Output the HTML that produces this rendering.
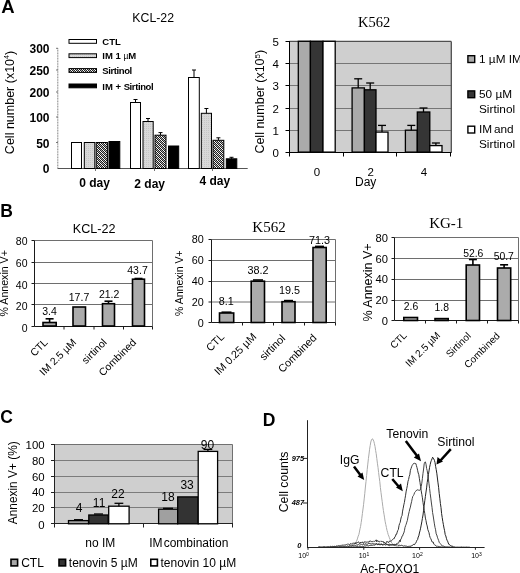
<!DOCTYPE html>
<html><head><meta charset="utf-8">
<style>
html,body{margin:0;padding:0;background:#fff;}
body{width:520px;height:573px;overflow:hidden;position:relative;font-family:"Liberation Sans",sans-serif;}
svg{position:absolute;left:0;top:0;filter:grayscale(1);}
text{font-family:"Liberation Sans",sans-serif;fill:#000;}
.b{font-weight:bold;}
.serif{font-family:"Liberation Serif",serif;}
</style></head>
<body>
<svg width="520" height="573" viewBox="0 0 520 573">
<defs>
<pattern id="hatch" width="4" height="4" patternUnits="userSpaceOnUse"><rect width="4" height="4" fill="#b0b0b0"/><rect x="0" y="0" width="1" height="1" fill="#1e1e1e"/><rect x="0" y="2" width="1" height="1" fill="#1e1e1e"/><rect x="1" y="1" width="1" height="1" fill="#1e1e1e"/><rect x="1" y="3" width="1" height="1" fill="#1e1e1e"/><rect x="2" y="0" width="1" height="1" fill="#1e1e1e"/><rect x="2" y="2" width="1" height="1" fill="#1e1e1e"/><rect x="3" y="1" width="1" height="1" fill="#1e1e1e"/><rect x="3" y="3" width="1" height="1" fill="#1e1e1e"/><rect x="0" y="3" width="1" height="1" fill="#ffffff"/><rect x="1" y="0" width="1" height="1" fill="#ffffff"/><rect x="2" y="1" width="1" height="1" fill="#ffffff"/><rect x="3" y="2" width="1" height="1" fill="#ffffff"/></pattern>
<pattern id="dots" width="2" height="2" patternUnits="userSpaceOnUse">
<rect width="2" height="2" fill="#d8d8d8"/><rect width="1" height="1" fill="#c6c6c6"/>
</pattern>
</defs>

<!-- ============ PANEL A LEFT ============ -->
<text x="0.6" y="12.7" class="b" font-size="17.5" transform="translate(0.6,0) scale(1.06,1)">A</text>
<text x="153.2" y="21.9" font-size="12.3" text-anchor="middle">KCL-22</text>
<text transform="translate(14,102.5) rotate(-90)" font-size="12.5" text-anchor="middle">Cell number (x10<tspan font-size="7" dy="-5">4</tspan><tspan dy="5">)</tspan></text>
<!-- y axis -->
<line x1="57.8" y1="48.3" x2="57.8" y2="168.4" stroke="#777" stroke-width="1" stroke-dasharray="1 0.6"/>
<g stroke="#777" stroke-width="1">
<line x1="56" y1="48.3" x2="58" y2="48.3"/><line x1="56" y1="70" x2="58" y2="70"/><line x1="56" y1="92" x2="58" y2="92"/>
<line x1="56" y1="117" x2="58" y2="117"/><line x1="56" y1="142.5" x2="58" y2="142.5"/>
</g>
<g class="b" font-size="12" text-anchor="end">
<text x="49.5" y="53">300</text><text x="49.5" y="75.1">250</text><text x="49.5" y="97">200</text>
<text x="49.5" y="122.4">100</text><text x="49.5" y="148.3">50</text><text x="49.5" y="173">0</text>
</g>
<line x1="57.5" y1="168.5" x2="247.7" y2="168.5" stroke="#555" stroke-width="1"/>
<g stroke="#777" stroke-width="1"><line x1="95.5" y1="168.5" x2="95.5" y2="171"/><line x1="154.5" y1="168.5" x2="154.5" y2="171"/><line x1="212.5" y1="168.5" x2="212.5" y2="171"/></g>
<!-- legend -->
<rect x="69" y="39.5" width="27.5" height="3.8" fill="#fff" stroke="#000" stroke-width="1"/>
<rect x="69" y="53.8" width="27.5" height="3.8" fill="url(#dots)" stroke="#000" stroke-width="1"/>
<rect x="69" y="68.6" width="27.5" height="3.8" fill="url(#hatch)" stroke="#000" stroke-width="1"/>
<rect x="69" y="84" width="27.5" height="3.8" fill="#000" stroke="#000" stroke-width="1"/>
<g class="b" font-size="9.5">
<text x="102.3" y="45">CTL</text><text x="102.3" y="58.8">IM 1 <tspan font-weight="normal" font-size="8.5">µ</tspan>M</text>
<text x="102.3" y="74.1" letter-spacing="-0.4">Sirtinol</text><text x="102.3" y="90">IM + <tspan letter-spacing="-0.4">Sirtinol</tspan></text>
</g>
<!-- bars -->
<g stroke="#000" stroke-width="1">
<rect x="71.5" y="142.5" width="10" height="26" fill="#fff"/>
<rect x="84.3" y="142.5" width="10.5" height="26" fill="url(#dots)"/>
<rect x="96.2" y="142.5" width="11.2" height="26" fill="url(#hatch)"/>
<rect x="109" y="141.5" width="10.8" height="27" fill="#000"/>

<rect x="130.5" y="102.5" width="10" height="66" fill="#fff"/>
<rect x="143" y="121.5" width="10.2" height="47" fill="url(#dots)"/>
<rect x="155" y="135.2" width="11" height="33.3" fill="url(#hatch)"/>
<rect x="168.5" y="146" width="10.2" height="22.5" fill="#000"/>

<rect x="188.5" y="77.5" width="10.8" height="91" fill="#fff"/>
<rect x="201.3" y="113.3" width="10.2" height="55.2" fill="url(#dots)"/>
<rect x="213" y="140.3" width="10.8" height="28.2" fill="url(#hatch)"/>
<rect x="226.3" y="158.8" width="10.5" height="9.7" fill="#000"/>
</g>
<g stroke="#000" stroke-width="1">
<line x1="135.5" y1="99.5" x2="135.5" y2="102.5"/><line x1="133.5" y1="99.5" x2="137.5" y2="99.5"/>
<line x1="148" y1="118.5" x2="148" y2="121.5"/><line x1="146" y1="118.5" x2="150" y2="118.5"/>
<line x1="160.5" y1="132.6" x2="160.5" y2="135.2"/><line x1="158.5" y1="132.6" x2="162.5" y2="132.6"/>
<line x1="194" y1="70" x2="194" y2="77.5"/><line x1="192" y1="70" x2="196" y2="70"/>
<line x1="206.4" y1="108.5" x2="206.4" y2="113.3"/><line x1="204.4" y1="108.5" x2="208.4" y2="108.5"/>
<line x1="218.4" y1="137.8" x2="218.4" y2="140.3"/><line x1="216.4" y1="137.8" x2="220.4" y2="137.8"/>
<line x1="231.5" y1="157.3" x2="231.5" y2="158.8"/><line x1="229.5" y1="157.3" x2="233.5" y2="157.3"/>
</g>
<g class="b" font-size="12" text-anchor="middle">
<text x="94.6" y="187">0 day</text><text x="149.7" y="188">2 day</text><text x="214.75" y="185">4 day</text>
</g>

<!-- ============ PANEL A RIGHT (K562) ============ -->
<text x="374.1" y="26.5" class="serif" font-size="14.5" text-anchor="middle">K562</text>
<text transform="translate(263.6,101.7) rotate(-90)" font-size="12.5" text-anchor="middle">Cell number (x10<tspan font-size="8" dy="-4">5</tspan><tspan dy="4">)</tspan></text>
<rect x="289.5" y="41.5" width="162" height="111" fill="#cfcfcf"/>
<g stroke="#767676" stroke-width="1">
<line x1="289.5" y1="63.5" x2="451.5" y2="63.5"/><line x1="289.5" y1="85.5" x2="451.5" y2="85.5"/>
<line x1="289.5" y1="108.5" x2="451.5" y2="108.5"/><line x1="289.5" y1="130.5" x2="451.5" y2="130.5"/>
</g>
<g stroke="#505050" stroke-width="1.3"><line x1="289.5" y1="41.4" x2="451.3" y2="41.4"/><line x1="451.3" y1="41.4" x2="451.3" y2="152.5"/></g>
<g stroke="#000" stroke-width="1">
<line x1="289.5" y1="41" x2="289.5" y2="152.5"/>
<line x1="285.5" y1="152.5" x2="451.5" y2="152.5"/>
<line x1="285.5" y1="41.5" x2="289.5" y2="41.5"/><line x1="285.5" y1="63.5" x2="289.5" y2="63.5"/>
<line x1="285.5" y1="85.5" x2="289.5" y2="85.5"/><line x1="285.5" y1="108.5" x2="289.5" y2="108.5"/>
<line x1="285.5" y1="130.5" x2="289.5" y2="130.5"/>
<line x1="289.5" y1="152" x2="289.5" y2="156.5"/><line x1="343.5" y1="152" x2="343.5" y2="156.5"/>
<line x1="396.5" y1="152" x2="396.5" y2="156.5"/><line x1="450.5" y1="152" x2="450.5" y2="156.5"/>
</g>
<g font-size="11.5" text-anchor="end">
<text x="279" y="45.8">5</text><text x="279" y="67.9">4</text><text x="279" y="90">3</text>
<text x="279" y="112.5">2</text><text x="279" y="134.8">1</text><text x="279" y="156.6">0</text>
</g>
<g stroke="#000" stroke-width="1.3">
<rect x="298.3" y="41.3" width="12.1" height="110.8" fill="#aaaaaa"/>
<rect x="310.4" y="41.3" width="12.6" height="110.8" fill="#353535"/>
<rect x="323" y="41.3" width="12.2" height="110.8" fill="#fff"/>
<rect x="352.1" y="87.9" width="12.3" height="64.2" fill="#aaaaaa"/>
<rect x="364.4" y="89.8" width="11.6" height="62.3" fill="#353535"/>
<rect x="376" y="132.1" width="12" height="20" fill="#fff"/>
<rect x="405.4" y="130.2" width="11.9" height="21.9" fill="#aaaaaa"/>
<rect x="417.3" y="112" width="12.5" height="40.1" fill="#353535"/>
<rect x="429.8" y="145.6" width="12.2" height="6.5" fill="#fff"/>
</g>
<g stroke="#000" stroke-width="1.3">
<line x1="358.2" y1="78.8" x2="358.2" y2="87.9"/><line x1="354.2" y1="78.8" x2="362.2" y2="78.8"/>
<line x1="370.2" y1="83" x2="370.2" y2="89.8"/><line x1="366.2" y1="83" x2="374.2" y2="83"/>
<line x1="382" y1="125.4" x2="382" y2="132.1"/><line x1="378" y1="125.4" x2="386" y2="125.4"/>
<line x1="411.3" y1="125.4" x2="411.3" y2="130.2"/><line x1="407.3" y1="125.4" x2="415.3" y2="125.4"/>
<line x1="423.5" y1="108" x2="423.5" y2="112"/><line x1="419.5" y1="108" x2="427.5" y2="108"/>
<line x1="435.9" y1="143" x2="435.9" y2="145.6"/><line x1="431.9" y1="143" x2="439.9" y2="143"/>
</g>
<g font-size="11.5" text-anchor="middle">
<text x="317" y="175.5">0</text><text x="370.8" y="175.5">2</text><text x="424" y="175.5">4</text>
<text x="365.7" y="186" font-size="12">Day</text>
</g>
<!-- legend -->
<g stroke="#000" stroke-width="1.4">
<rect x="467.9" y="55.7" width="6.8" height="6.8" fill="#aaaaaa"/>
<rect x="467.9" y="90.9" width="6.8" height="6.8" fill="#353535"/>
<rect x="467.9" y="126.2" width="6.8" height="6.8" fill="#fff"/>
</g>
<g font-size="11.8">
<text x="479" y="63">1 µM IM</text>
<text x="479" y="97.9">50 µM</text><text x="479" y="112.6">Sirtinol</text>
<text x="479" y="133" word-spacing="-1.5">IM and</text><text x="479" y="148">Sirtinol</text>
</g>


<!-- ============ PANEL B ============ -->
<text x="0.3" y="216.7" class="b" font-size="17.5">B</text>
<!-- B1 KCL-22 -->
<text x="94.1" y="233.3" font-size="12.6" text-anchor="middle">KCL-22</text>
<text transform="translate(7.6,283.3) rotate(-90)" font-size="10.6" text-anchor="middle">% Annexin V+</text>
<g stroke="#6e6e6e" stroke-width="1">
<line x1="34.5" y1="262.5" x2="152.5" y2="262.5"/>
<line x1="34.5" y1="283.5" x2="152.5" y2="283.5"/>
<line x1="34.5" y1="304.5" x2="152.5" y2="304.5"/>
<line x1="34.5" y1="240.5" x2="152.5" y2="240.5"/><line x1="152.5" y1="240.5" x2="152.5" y2="326.5"/>
</g>
<g stroke="#1a1a1a" stroke-width="1">
<line x1="34.5" y1="240.5" x2="34.5" y2="326.5"/><line x1="34.5" y1="326.5" x2="152.5" y2="326.5"/>
<line x1="31.5" y1="240.5" x2="34.5" y2="240.5"/>
<line x1="31.5" y1="262.5" x2="34.5" y2="262.5"/>
<line x1="31.5" y1="283.5" x2="34.5" y2="283.5"/>
<line x1="31.5" y1="304.5" x2="34.5" y2="304.5"/>
<line x1="31.5" y1="326.5" x2="34.5" y2="326.5"/>
<line x1="64" y1="326.5" x2="64" y2="329.5"/>
<line x1="94" y1="326.5" x2="94" y2="329.5"/>
<line x1="123.5" y1="326.5" x2="123.5" y2="329.5"/>
<line x1="152.5" y1="326.5" x2="152.5" y2="329.5"/>
</g>
<g font-size="10.5" text-anchor="end">
<text x="27.5" y="244.8">80</text><text x="27.5" y="266.8">60</text><text x="27.5" y="288.6">40</text>
<text x="27.5" y="309.8">20</text><text x="27.5" y="331.5">0</text>
</g>
<g stroke="#000" stroke-width="1.6">
<rect x="43" y="322.5" width="13.2" height="3.5" fill="#ababab"/>
<rect x="73" y="307" width="12.5" height="19" fill="#ababab"/>
<rect x="102.5" y="303.7" width="12" height="22.3" fill="#ababab"/>
<rect x="132.5" y="279.2" width="12" height="46.8" fill="#ababab"/>
<line x1="49.6" y1="318.8" x2="49.6" y2="322.5"/><line x1="45.6" y1="318.8" x2="53.6" y2="318.8"/>
<line x1="108.5" y1="301.2" x2="108.5" y2="303.7"/><line x1="104.5" y1="301.2" x2="112.5" y2="301.2"/>
<line x1="138.5" y1="278.5" x2="138.5" y2="279.2"/><line x1="134.5" y1="278.5" x2="142.5" y2="278.5"/>
</g>
<g font-size="10.5" text-anchor="middle">
<text x="49.5" y="314.5">3.4</text><text x="79" y="301.2">17.7</text><text x="109.1" y="298.3">21.2</text><text x="137.5" y="273.6">43.7</text>
</g>
<g font-size="10.5" text-anchor="end">
<text transform="translate(48.5,343) rotate(-45)">CTL</text>
<text transform="translate(77,343) rotate(-45)">IM 2.5 µM</text>
<text transform="translate(107.5,343) rotate(-45)">sirtinol</text>
<text transform="translate(136.8,343) rotate(-45)">Combined</text>
</g>

<!-- B2 K562 -->
<text x="269" y="231.7" class="serif" font-size="15" text-anchor="middle">K562</text>
<text transform="translate(183.3,283.1) rotate(-90)" font-size="10.5" text-anchor="middle">% Annexin V+</text>
<g stroke="#6e6e6e" stroke-width="1">
<line x1="211.5" y1="260.5" x2="335.5" y2="260.5"/>
<line x1="211.5" y1="281.5" x2="335.5" y2="281.5"/>
<line x1="211.5" y1="302" x2="335.5" y2="302"/>
<line x1="211.5" y1="239.5" x2="335.5" y2="239.5"/><line x1="335.5" y1="239.5" x2="335.5" y2="322.5"/>
</g>
<g stroke="#1a1a1a" stroke-width="1">
<line x1="211.5" y1="239.5" x2="211.5" y2="322.5"/><line x1="211.5" y1="322.5" x2="335.5" y2="322.5"/>
<line x1="208.5" y1="239.5" x2="211.5" y2="239.5"/>
<line x1="208.5" y1="260.5" x2="211.5" y2="260.5"/>
<line x1="208.5" y1="281.5" x2="211.5" y2="281.5"/>
<line x1="208.5" y1="302" x2="211.5" y2="302"/>
<line x1="208.5" y1="322.5" x2="211.5" y2="322.5"/>
<line x1="242.5" y1="322.5" x2="242.5" y2="325.5"/>
<line x1="273.5" y1="322.5" x2="273.5" y2="325.5"/>
<line x1="304.5" y1="322.5" x2="304.5" y2="325.5"/>
<line x1="335.5" y1="322.5" x2="335.5" y2="325.5"/>
</g>
<g font-size="10.8" text-anchor="end">
<text x="203.8" y="243.3">80</text><text x="203.8" y="264">60</text><text x="203.8" y="285.2">40</text>
<text x="203.8" y="306">20</text><text x="203.8" y="326.5">0</text>
</g>
<g stroke="#000" stroke-width="1.6">
<rect x="219.5" y="313" width="14.2" height="9.5" fill="#ababab"/>
<rect x="251.2" y="281.2" width="13.3" height="41.3" fill="#ababab"/>
<rect x="282" y="301.7" width="13" height="20.8" fill="#ababab"/>
<rect x="313" y="247.5" width="13.2" height="75" fill="#ababab"/>
<line x1="253" y1="280" x2="263" y2="280"/>
<line x1="284" y1="300.6" x2="293" y2="300.6"/>
<line x1="315" y1="246.4" x2="324" y2="246.4"/>
<line x1="221.5" y1="312.2" x2="231.5" y2="312.2"/>
</g>
<g font-size="10.8" text-anchor="middle">
<text x="226.3" y="305">8.1</text><text x="258" y="274.2">38.2</text><text x="289.5" y="293.8">19.5</text><text x="319.6" y="244.2">71.3</text>
</g>
<g font-size="10.8" text-anchor="end">
<text transform="translate(225,337.5) rotate(-45)">CTL</text>
<text transform="translate(257,337.5) rotate(-45)">IM 0.25 µM</text>
<text transform="translate(286,339) rotate(-45)">sirtinol</text>
<text transform="translate(317.3,338.5) rotate(-45)">Combined</text>
</g>

<!-- B3 KG-1 -->
<text x="446.3" y="228.1" class="serif" font-size="15" text-anchor="middle">KG-1</text>
<text transform="translate(371.5,282.5) rotate(-90)" font-size="12.5" text-anchor="middle">% Annexin V+</text>
<g stroke="#6e6e6e" stroke-width="1">
<line x1="394.5" y1="258.5" x2="518.5" y2="258.5"/>
<line x1="394.5" y1="279.5" x2="518.5" y2="279.5"/>
<line x1="394.5" y1="300.5" x2="518.5" y2="300.5"/>
<line x1="394.5" y1="237.5" x2="518.5" y2="237.5"/><line x1="518.5" y1="237.5" x2="518.5" y2="320.5"/>
</g>
<g stroke="#1a1a1a" stroke-width="1">
<line x1="394.5" y1="237.5" x2="394.5" y2="320.5"/><line x1="394.5" y1="320.5" x2="518.5" y2="320.5"/>
<line x1="391.5" y1="237.5" x2="394.5" y2="237.5"/>
<line x1="391.5" y1="258.5" x2="394.5" y2="258.5"/>
<line x1="391.5" y1="279.5" x2="394.5" y2="279.5"/>
<line x1="391.5" y1="300.5" x2="394.5" y2="300.5"/>
<line x1="391.5" y1="320.5" x2="394.5" y2="320.5"/>
<line x1="425.5" y1="320.5" x2="425.5" y2="323.5"/>
<line x1="456.5" y1="320.5" x2="456.5" y2="323.5"/>
<line x1="487.5" y1="320.5" x2="487.5" y2="323.5"/>
<line x1="518.5" y1="320.5" x2="518.5" y2="323.5"/>
</g>
<g font-size="11.2" text-anchor="end">
<text x="388" y="242">80</text><text x="388" y="262.6">60</text><text x="388" y="283.4">40</text>
<text x="388" y="304.2">20</text><text x="388" y="324.8">0</text>
</g>
<g stroke="#000" stroke-width="1.6">
<rect x="403.8" y="317.5" width="13.7" height="3" fill="#ababab"/>
<rect x="435" y="318.6" width="13.2" height="1.9" fill="#ababab"/>
<rect x="466.2" y="265" width="13.3" height="55.5" fill="#ababab"/>
<rect x="497.5" y="268" width="13.2" height="52.5" fill="#ababab"/>
<line x1="472.9" y1="259.5" x2="472.9" y2="265"/><line x1="468.9" y1="259.5" x2="476.9" y2="259.5"/>
<line x1="504.1" y1="264.8" x2="504.1" y2="268"/><line x1="500.1" y1="264.8" x2="508.1" y2="264.8"/>
</g>
<g font-size="10.4" text-anchor="middle">
<text x="411" y="309.5">2.6</text><text x="441.8" y="310.6">1.8</text><text x="473.3" y="257.3">52.6</text><text x="503.8" y="259.9">50.7</text>
</g>
<g font-size="10" text-anchor="end">
<text transform="translate(407.5,336) rotate(-45)">CTL</text>
<text transform="translate(441,336) rotate(-45)">IM 2.5 µM</text>
<text transform="translate(471.5,336.5) rotate(-45)">Sirtinol</text>
<text transform="translate(500.5,336.5) rotate(-45)">Combined</text>
</g>

<!-- ============ PANEL C ============ -->
<text x="0.3" y="423" class="b" font-size="17.5">C</text>
<text transform="translate(16.9,482.8) rotate(-90)" font-size="11.9" text-anchor="middle">Annexin V+ (%)</text>
<rect x="54.5" y="444.5" width="178" height="79" fill="#cfcfcf"/>
<g stroke="#7c7c7c" stroke-width="1">
<line x1="54.5" y1="460.5" x2="232.5" y2="460.5"/><line x1="54.5" y1="476.5" x2="232.5" y2="476.5"/>
<line x1="54.5" y1="492.5" x2="232.5" y2="492.5"/><line x1="54.5" y1="507.5" x2="232.5" y2="507.5"/>
</g>
<g stroke="#707070" stroke-width="1"><line x1="54.5" y1="444.5" x2="232.5" y2="444.5"/><line x1="232.5" y1="444.5" x2="232.5" y2="523.5"/></g>
<g stroke="#222" stroke-width="1">
<line x1="54.5" y1="444" x2="54.5" y2="523.5"/><line x1="54" y1="523.5" x2="233" y2="523.5"/>
<line x1="51" y1="444.5" x2="54.5" y2="444.5"/><line x1="51" y1="460.5" x2="54.5" y2="460.5"/><line x1="51" y1="476.5" x2="54.5" y2="476.5"/>
<line x1="51" y1="492.5" x2="54.5" y2="492.5"/><line x1="51" y1="507.5" x2="54.5" y2="507.5"/><line x1="51" y1="523.5" x2="54.5" y2="523.5"/>
<line x1="54.5" y1="523.5" x2="54.5" y2="527.5"/><line x1="143.5" y1="523.5" x2="143.5" y2="527.5"/><line x1="232.5" y1="523.5" x2="232.5" y2="527.5"/>
</g>
<g font-size="11.4" text-anchor="end">
<text x="44.6" y="449.1">100</text><text x="44.6" y="465.4">80</text><text x="44.6" y="480.7">60</text>
<text x="44.6" y="496.4">40</text><text x="44.6" y="512">20</text><text x="44.6" y="528.7">0</text>
</g>
<g stroke="#000" stroke-width="1.3">
<rect x="68.5" y="520.6" width="20" height="3.2" fill="#a0a0a0"/>
<rect x="88.8" y="515" width="19.4" height="8.8" fill="#333"/>
<rect x="108.7" y="506.2" width="20.4" height="17.6" fill="#fff"/>
<rect x="158.6" y="509.2" width="19.1" height="14.6" fill="#a0a0a0"/>
<rect x="177.7" y="496.9" width="20.5" height="26.9" fill="#333"/>
<rect x="198.2" y="451.4" width="19.4" height="72.4" fill="#fff"/>
<line x1="118.9" y1="503.3" x2="118.9" y2="506.2"/><line x1="114.5" y1="503.3" x2="123.3" y2="503.3"/>
<line x1="207.9" y1="449.4" x2="207.9" y2="451.4"/><line x1="203.5" y1="449.4" x2="212.3" y2="449.4"/>
<line x1="74" y1="519.7" x2="83" y2="519.7"/>
<line x1="94" y1="514" x2="103" y2="514"/>
<line x1="163" y1="508.3" x2="173" y2="508.3"/>
</g>
<g font-size="12" text-anchor="middle">
<text x="79" y="512.4">4</text><text x="99.1" y="506.5">11</text><text x="118" y="497.8">22</text>
<text x="168" y="500.8">18</text><text x="187.1" y="488.5">33</text><text x="207.5" y="448.9">90</text>
</g>
<g font-size="12">
<text x="100.3" y="546.9" text-anchor="middle">no IM</text><text x="149.2" y="546.7" word-spacing="-2.2">IM combination</text>
</g>
<g stroke="#000" stroke-width="1.6">
<rect x="11" y="559.3" width="6.6" height="6.6" fill="#a8a8a8"/>
<rect x="59" y="559.3" width="6.6" height="6.6" fill="#333"/>
<rect x="150.8" y="559.3" width="6.6" height="6.6" fill="#fff"/>
</g>
<g font-size="12">
<text x="21.2" y="567">CTL</text><text x="68.8" y="567">tenovin 5 µM</text><text x="160.5" y="567">tenovin 10 µM</text>
</g>

<!-- ============ PANEL D ============ -->
<!--CURVES-->
<polyline points="318.0,547.2 318.6,547.2 319.2,547.2 319.8,547.2 320.4,547.2 321.0,547.2 321.6,547.2 322.2,547.1 322.8,547.2 323.4,547.2 324.0,547.2 324.6,547.2 325.2,547.2 325.8,547.2 326.4,547.2 327.0,547.1 327.6,547.2 328.2,547.2 328.8,547.2 329.4,547.2 330.0,547.2 330.6,547.2 331.2,547.2 331.8,547.2 332.4,547.2 333.0,547.2 333.6,547.2 334.2,547.2 334.8,547.2 335.4,547.2 336.0,547.2 336.6,547.2 337.2,547.2 337.8,547.2 338.4,547.1 339.0,547.2 339.6,547.2 340.2,547.1 340.8,547.2 341.4,547.2 342.0,547.2 342.6,547.2 343.2,547.2 343.8,547.2 344.4,547.1 345.0,547.2 345.6,547.1 346.2,547.1 346.8,547.2 347.4,546.9 348.0,547.0 348.6,547.1 349.2,546.9 349.8,546.7 350.4,546.7 351.0,546.4 351.6,546.3 352.2,545.9 352.8,545.5 353.4,545.4 354.0,544.7 354.6,544.2 355.2,543.3 355.8,542.7 356.4,541.4 357.0,540.0 357.6,538.1 358.2,536.1 358.8,534.7 359.4,532.1 360.0,528.8 360.6,526.4 361.2,522.4 361.8,518.3 362.4,513.5 363.0,509.0 363.6,504.3 364.2,498.9 364.8,493.3 365.4,487.0 366.0,481.6 366.6,475.7 367.2,469.6 367.8,464.1 368.4,458.7 369.0,454.0 369.6,449.2 370.2,445.5 370.8,442.0 371.4,440.0 372.0,439.1 372.6,438.8 373.2,440.0 373.8,441.2 374.4,443.7 375.0,446.4 375.6,450.4 376.2,453.7 376.8,458.5 377.4,463.2 378.0,467.4 378.6,472.5 379.2,477.2 379.8,481.7 380.4,487.6 381.0,492.5 381.6,497.1 382.2,501.6 382.8,506.3 383.4,510.5 384.0,514.2 384.6,517.9 385.2,521.8 385.8,524.6 386.4,527.4 387.0,530.4 387.6,532.3 388.2,534.7 388.8,536.0 389.4,537.8 390.0,539.3 390.6,540.7 391.2,541.7 391.8,543.2 392.4,543.7 393.0,543.9 393.6,545.1 394.2,544.9 394.8,545.8 395.4,545.7 396.0,546.2 396.6,546.2 397.2,546.5 397.8,546.8 398.4,546.6 399.0,546.7 399.6,546.9" fill="none" stroke="#aaa" stroke-width="1"/>
<polyline points="318.0,547.2 318.6,547.2 319.2,547.2 319.8,546.9 320.4,547.2 321.0,547.1 321.6,547.2 322.2,547.2 322.8,547.2 323.4,546.8 324.0,547.0 324.6,546.8 325.2,547.0 325.8,547.1 326.4,547.0 327.0,547.0 327.6,546.8 328.2,546.9 328.8,546.8 329.4,547.0 330.0,546.9 330.6,546.2 331.2,546.7 331.8,546.8 332.4,546.4 333.0,546.0 333.6,546.7 334.2,546.3 334.8,546.4 335.4,546.7 336.0,545.9 336.6,546.0 337.2,545.9 337.8,546.1 338.4,545.6 339.0,545.9 339.6,545.7 340.2,545.9 340.8,545.9 341.4,544.9 342.0,545.5 342.6,545.1 343.2,545.1 343.8,545.2 344.4,545.1 345.0,544.6 345.6,544.9 346.2,544.7 346.8,544.6 347.4,544.0 348.0,544.1 348.6,544.2 349.2,544.5 349.8,544.8 350.4,543.6 351.0,543.5 351.6,544.0 352.2,543.5 352.8,543.3 353.4,543.2 354.0,543.1 354.6,543.7 355.2,542.5 355.8,544.0 356.4,542.7 357.0,542.8 357.6,542.5 358.2,541.8 358.8,542.0 359.4,543.4 360.0,543.7 360.6,542.1 361.2,543.1 361.8,542.4 362.4,541.8 363.0,543.2 363.6,543.4 364.2,541.8 364.8,541.9 365.4,542.0 366.0,541.7 366.6,542.2 367.2,542.5 367.8,541.6 368.4,542.0 369.0,542.3 369.6,541.0 370.2,541.2 370.8,540.9 371.4,541.7 372.0,541.5 372.6,541.6 373.2,541.5 373.8,540.9 374.4,541.5 375.0,540.8 375.6,540.8 376.2,539.8 376.8,541.9 377.4,540.5 378.0,541.2 378.6,541.2 379.2,542.1 379.8,541.6 380.4,540.9 381.0,541.5 381.6,541.4 382.2,541.7 382.8,541.0 383.4,541.7 384.0,543.1 384.6,542.3 385.2,543.1 385.8,543.9 386.4,542.3 387.0,541.2 387.6,541.9 388.2,542.6 388.8,542.4 389.4,541.0 390.0,541.4 390.6,541.2 391.2,541.0 391.8,540.5 392.4,539.6 393.0,539.2 393.6,538.7 394.2,538.7 394.8,536.8 395.4,536.5 396.0,534.2 396.6,534.3 397.2,532.1 397.8,530.4 398.4,529.4 399.0,525.6 399.6,523.6 400.2,522.4 400.8,519.1 401.4,516.7 402.0,515.7 402.6,511.1 403.2,508.2 403.8,504.9 404.4,502.4 405.0,498.6 405.6,495.2 406.2,491.1 406.8,488.3 407.4,485.3 408.0,481.2 408.6,479.5 409.2,476.5 409.8,474.8 410.4,470.3 411.0,468.6 411.6,466.8 412.2,465.4 412.8,464.5 413.4,463.6 414.0,463.4 414.6,463.3 415.2,463.5 415.8,463.5 416.4,465.5 417.0,467.7 417.6,470.3 418.2,473.0 418.8,474.7 419.4,478.7 420.0,482.5 420.6,486.6 421.2,490.9 421.8,494.3 422.4,497.8 423.0,502.5 423.6,506.4 424.2,510.2 424.8,513.6 425.4,518.1 426.0,520.6 426.6,524.1 427.2,525.9 427.8,529.5 428.4,531.1 429.0,532.7 429.6,535.7 430.2,537.6 430.8,538.7 431.4,540.1 432.0,541.9 432.6,542.0 433.2,542.0 433.8,544.0 434.4,544.6 435.0,545.4 435.6,545.3 436.2,546.2 436.8,546.4 437.4,546.0 438.0,546.7 438.6,546.4 439.2,546.4 439.8,546.8 440.4,546.8 441.0,546.6 441.6,547.1 442.2,547.2 442.8,547.2 443.4,547.1 444.0,546.9 444.6,547.0 445.2,547.2 445.8,547.2 446.4,547.2 447.0,547.1 447.6,547.2 448.2,547.2 448.8,547.1 449.4,547.2 450.0,547.2" fill="none" stroke="#333" stroke-width="1"/>
<polyline points="318.0,547.2 318.6,547.2 319.2,547.1 319.8,546.8 320.4,547.1 321.0,547.2 321.6,547.2 322.2,547.1 322.8,547.2 323.4,547.2 324.0,547.0 324.6,547.0 325.2,547.2 325.8,547.2 326.4,547.2 327.0,547.2 327.6,547.0 328.2,546.7 328.8,547.1 329.4,547.2 330.0,547.2 330.6,547.1 331.2,547.1 331.8,547.2 332.4,547.0 333.0,547.2 333.6,546.8 334.2,546.8 334.8,546.7 335.4,547.0 336.0,546.8 336.6,546.9 337.2,547.0 337.8,546.9 338.4,547.1 339.0,547.1 339.6,546.6 340.2,546.8 340.8,546.6 341.4,546.4 342.0,547.0 342.6,546.7 343.2,546.5 343.8,546.4 344.4,546.5 345.0,546.1 345.6,546.2 346.2,546.6 346.8,546.4 347.4,545.9 348.0,545.9 348.6,546.6 349.2,545.5 349.8,545.7 350.4,545.4 351.0,545.8 351.6,545.7 352.2,546.0 352.8,544.6 353.4,545.5 354.0,544.8 354.6,545.5 355.2,545.1 355.8,545.8 356.4,545.2 357.0,544.5 357.6,545.4 358.2,544.3 358.8,544.6 359.4,545.1 360.0,544.8 360.6,544.7 361.2,544.4 361.8,544.6 362.4,544.7 363.0,544.4 363.6,544.6 364.2,544.7 364.8,544.1 365.4,543.5 366.0,544.7 366.6,543.9 367.2,544.2 367.8,544.3 368.4,543.3 369.0,544.0 369.6,543.0 370.2,544.1 370.8,543.5 371.4,543.8 372.0,544.1 372.6,543.4 373.2,543.8 373.8,543.4 374.4,543.8 375.0,544.3 375.6,543.8 376.2,543.8 376.8,543.4 377.4,544.4 378.0,544.0 378.6,544.8 379.2,543.7 379.8,544.6 380.4,545.0 381.0,544.2 381.6,543.8 382.2,545.0 382.8,544.9 383.4,544.8 384.0,545.0 384.6,544.5 385.2,545.0 385.8,545.1 386.4,544.6 387.0,545.2 387.6,544.8 388.2,545.4 388.8,545.5 389.4,545.8 390.0,544.4 390.6,545.3 391.2,545.1 391.8,545.2 392.4,545.1 393.0,545.1 393.6,544.2 394.2,545.3 394.8,545.4 395.4,545.0 396.0,544.9 396.6,543.5 397.2,543.1 397.8,543.6 398.4,543.3 399.0,542.0 399.6,540.2 400.2,541.9 400.8,538.9 401.4,538.7 402.0,536.1 402.6,536.0 403.2,534.0 403.8,533.0 404.4,530.8 405.0,527.4 405.6,525.7 406.2,524.2 406.8,522.1 407.4,520.3 408.0,516.9 408.6,514.1 409.2,511.6 409.8,509.0 410.4,507.1 411.0,504.0 411.6,501.7 412.2,498.7 412.8,496.3 413.4,495.6 414.0,494.4 414.6,492.6 415.2,491.9 415.8,491.2 416.4,490.3 417.0,490.6 417.6,489.6 418.2,490.2 418.8,490.1 419.4,490.3 420.0,490.2 420.6,489.0 421.2,486.4 421.8,483.2 422.4,478.3 423.0,473.3 423.6,469.0 424.2,463.8 424.8,462.2 425.4,461.9 426.0,464.2 426.6,468.4 427.2,470.7 427.8,474.6 428.4,479.1 429.0,483.8 429.6,488.5 430.2,493.7 430.8,498.1 431.4,503.0 432.0,507.3 432.6,512.6 433.2,516.0 433.8,520.0 434.4,523.9 435.0,527.4 435.6,529.8 436.2,533.9 436.8,535.0 437.4,537.2 438.0,538.9 438.6,540.4 439.2,542.3 439.8,543.2 440.4,543.6 441.0,544.4 441.6,545.1 442.2,546.2 442.8,545.9 443.4,546.0 444.0,546.3 444.6,546.6 445.2,547.2 445.8,546.7 446.4,547.0 447.0,547.2 447.6,547.0 448.2,547.2 448.8,547.2 449.4,547.2 450.0,546.9 450.6,547.2 451.2,547.1 451.8,546.9 452.4,546.9 453.0,547.2 453.6,547.2 454.2,547.2 454.8,547.2" fill="none" stroke="#444" stroke-width="1"/>
<polyline points="330.0,547.1 330.6,547.2 331.2,547.2 331.8,547.1 332.4,547.2 333.0,547.2 333.6,547.1 334.2,547.1 334.8,547.1 335.4,547.1 336.0,547.2 336.6,547.1 337.2,547.2 337.8,547.2 338.4,547.1 339.0,547.2 339.6,547.1 340.2,547.2 340.8,547.2 341.4,547.2 342.0,547.2 342.6,547.2 343.2,547.2 343.8,547.1 344.4,547.1 345.0,547.2 345.6,547.1 346.2,547.0 346.8,547.2 347.4,547.1 348.0,547.0 348.6,547.0 349.2,546.9 349.8,546.9 350.4,547.0 351.0,547.0 351.6,546.9 352.2,547.1 352.8,547.0 353.4,546.8 354.0,546.7 354.6,546.9 355.2,546.9 355.8,546.8 356.4,546.6 357.0,546.8 357.6,546.5 358.2,546.9 358.8,546.7 359.4,546.7 360.0,546.5 360.6,546.4 361.2,546.7 361.8,546.6 362.4,546.3 363.0,546.4 363.6,546.5 364.2,546.0 364.8,546.0 365.4,546.0 366.0,546.1 366.6,545.7 367.2,545.9 367.8,545.6 368.4,545.9 369.0,545.8 369.6,545.5 370.2,545.6 370.8,545.2 371.4,545.3 372.0,545.5 372.6,545.2 373.2,545.2 373.8,544.8 374.4,545.1 375.0,545.0 375.6,544.5 376.2,544.1 376.8,544.1 377.4,544.6 378.0,544.5 378.6,544.0 379.2,544.5 379.8,544.7 380.4,544.3 381.0,544.2 381.6,544.5 382.2,544.8 382.8,544.7 383.4,544.0 384.0,544.4 384.6,544.2 385.2,544.1 385.8,544.0 386.4,544.3 387.0,544.1 387.6,544.5 388.2,544.4 388.8,544.6 389.4,544.0 390.0,544.4 390.6,544.7 391.2,544.6 391.8,544.6 392.4,544.4 393.0,545.1 393.6,545.0 394.2,544.9 394.8,544.2 395.4,544.7 396.0,545.0 396.6,544.9 397.2,544.6 397.8,545.3 398.4,545.4 399.0,545.1 399.6,545.3 400.2,545.4 400.8,545.7 401.4,545.3 402.0,545.4 402.6,545.7 403.2,545.8 403.8,546.4 404.4,545.9 405.0,546.1 405.6,546.1 406.2,546.1 406.8,546.3 407.4,546.6 408.0,546.2 408.6,546.4 409.2,546.3 409.8,546.3 410.4,546.2 411.0,546.5 411.6,545.6 412.2,545.6 412.8,545.1 413.4,544.4 414.0,544.5 414.6,544.6 415.2,543.6 415.8,542.9 416.4,541.6 417.0,540.2 417.6,539.6 418.2,537.0 418.8,535.9 419.4,533.0 420.0,530.8 420.6,528.2 421.2,525.1 421.8,521.9 422.4,518.4 423.0,515.0 423.6,510.2 424.2,505.2 424.8,500.7 425.4,496.4 426.0,492.0 426.6,487.9 427.2,482.6 427.8,478.8 428.4,474.7 429.0,470.9 429.6,467.3 430.2,464.6 430.8,461.9 431.4,460.4 432.0,458.9 432.6,457.2 433.2,458.1 433.8,459.0 434.4,460.3 435.0,462.5 435.6,466.3 436.2,469.5 436.8,473.2 437.4,478.0 438.0,482.9 438.6,487.3 439.2,493.4 439.8,498.2 440.4,503.5 441.0,507.6 441.6,513.6 442.2,517.5 442.8,521.5 443.4,524.7 444.0,528.1 444.6,530.7 445.2,534.6 445.8,535.9 446.4,538.3 447.0,540.2 447.6,541.1 448.2,542.9 448.8,544.3 449.4,544.4 450.0,545.4 450.6,545.6 451.2,545.8 451.8,546.2 452.4,546.2 453.0,546.7 453.6,547.0 454.2,547.0 454.8,547.1 455.4,547.2 456.0,547.0 456.6,547.2 457.2,547.2 457.8,547.1 458.4,547.2 459.0,547.1 459.6,547.2 460.2,547.1 460.8,547.2 461.4,547.0 462.0,547.1 462.6,547.2 463.2,547.1 463.8,547.2 464.4,547.2 465.0,547.2 465.6,547.2 466.2,547.2 466.8,547.0 467.4,547.2 468.0,547.2 468.6,547.2 469.2,547.2 469.8,547.2" fill="none" stroke="#222" stroke-width="1"/>
<!--/CURVES-->
<text x="262.8" y="426" class="b" font-size="17.5">D</text>
<text transform="translate(287.6,481.9) rotate(-90)" font-size="12.3" text-anchor="middle">Cell counts</text>
<g stroke="#222" stroke-width="1">
<line x1="307.5" y1="420.2" x2="307.5" y2="547.5"/>
<line x1="307" y1="547.5" x2="484.6" y2="547.5"/>
<line x1="303" y1="458.4" x2="308" y2="458.4"/><line x1="303" y1="503" x2="308" y2="503"/>
<line x1="308" y1="547" x2="308" y2="549.8"/><line x1="363.8" y1="547" x2="363.8" y2="549.8"/>
<line x1="419.6" y1="547" x2="419.6" y2="549.8"/><line x1="475.4" y1="547" x2="475.4" y2="549.8"/>
</g>
<g class="serif" font-size="7.4" font-weight="bold" font-style="italic" text-anchor="end" fill="#222">
<text x="304" y="460.9">975</text><text x="304" y="505.4">487</text><text x="301.3" y="548.4">0</text>
</g>
<g class="serif" font-size="7" fill="#222">
<text x="298.3" y="558.3">10<tspan font-size="5" dy="-2.5">0</tspan></text>
<text x="358.7" y="558.3">10<tspan font-size="5" dy="-2.5">1</tspan></text>
<text x="412.1" y="558.3">10<tspan font-size="5" dy="-2.5">2</tspan></text>
<text x="471.2" y="558.3">10<tspan font-size="5" dy="-2.5">3</tspan></text>
</g>
<text x="389.7" y="572.5" font-size="12.1" text-anchor="middle">Ac-FOXO1</text>
<g font-size="12.2">
<text x="339.8" y="463.7">IgG</text><text x="380.6" y="477.1">CTL</text>
<text x="386.3" y="438.3">Tenovin</text><text x="437.3" y="446">Sirtinol</text>
</g>
<g stroke="#000" stroke-width="2.5" fill="none">
<line x1="354" y1="466.5" x2="361.5" y2="476.5"/>
<line x1="392.3" y1="479" x2="399.5" y2="487.5"/>
<line x1="405.8" y1="441" x2="417.3" y2="456.3"/>
<line x1="450.8" y1="449.2" x2="440.5" y2="460.5"/>
</g>
<g fill="#000">
<polygon points="364.2,480 357.5,476.5 362.5,472.5"/>
<polygon points="402.8,491.3 396,487.5 401,483.5"/>
<polygon points="421,461.3 413.8,457.5 419,453.5"/>
<polygon points="436.5,464.5 437.5,457 443,461.5"/>
</g>

</svg>
</body></html>
